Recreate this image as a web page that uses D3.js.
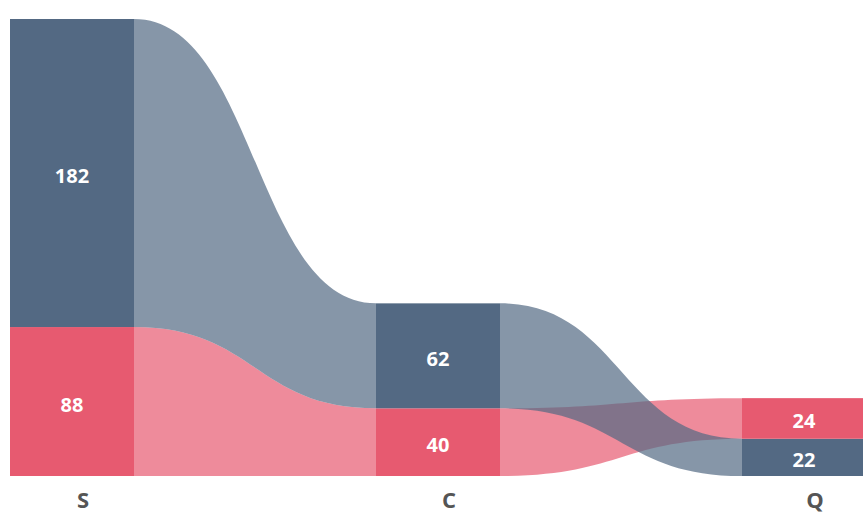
<!DOCTYPE html>
<html>
<head>
<meta charset="utf-8">
<script src="https://cdn.jsdelivr.net/npm/d3@7"></script>
<style>
  html, body { margin: 0; padding: 0; background: #fff; }
  svg { display: block; }
</style>
</head>
<body>
<svg id="chart" width="863" height="513"></svg>
<script>
// Categories along the x axis and the two series stacked at each one
const categories = ["S", "C", "Q"];
const seriesNames = ["blue", "red"];
const blueValues = [182, 62, 22];
const redValues = [88, 40, 24];

const colors = { blue: "#536983", red: "#e75a70" };
const flowOpacity = 0.7;

const width = 863, height = 513;
const barWidth = 124;
const svg = d3.select("#chart");

const values = { blue: blueValues, red: redValues };

// Stack each category: smallest value at the bottom, largest on top
const stacks = categories.map((c, i) => {
  const items = seriesNames.map(s => ({ series: s, value: values[s][i] }))
    .sort((a, b) => a.value - b.value);
  let acc = 0;
  items.forEach(d => { d.y0 = acc; acc += d.value; d.y1 = acc; });
  const byName = {};
  items.forEach(d => { byName[d.series] = d; });
  return { category: c, items, byName, total: acc };
});

const maxTotal = d3.max(stacks, d => d.total);

const x = d3.scalePoint().domain(categories).range([10, 742]);
const y = d3.scaleLinear().domain([0, maxTotal]).range([476, 19]);

const flowLayer = svg.append("g");
const barLayer = svg.append("g");
const labelLayer = svg.append("g");

// Flow ribbons between neighbouring bars; red first so blue sits over it
function ribbon(a, b) {
  const x0 = a.x, x1 = b.x, mx = (x0 + x1) / 2;
  const p = d3.path();
  p.moveTo(x0, a.top);
  p.bezierCurveTo(mx, a.top, mx, b.top, x1, b.top);
  p.lineTo(x1, b.bottom);
  p.bezierCurveTo(mx, b.bottom, mx, a.bottom, x0, a.bottom);
  p.closePath();
  return p.toString();
}

["red", "blue"].forEach(s => {
  for (let i = 0; i < categories.length - 1; i++) {
    const A = stacks[i].byName[s], B = stacks[i + 1].byName[s];
    const a = { x: x(categories[i]) + barWidth, top: y(A.y1), bottom: y(A.y0) };
    const b = { x: x(categories[i + 1]), top: y(B.y1), bottom: y(B.y0) };
    flowLayer.append("path")
      .attr("d", ribbon(a, b))
      .attr("fill", colors[s])
      .attr("fill-opacity", flowOpacity);
  }
});

// Bars with their value labels
stacks.forEach(st => {
  st.items.forEach(d => {
    barLayer.append("rect")
      .attr("x", x(st.category))
      .attr("y", y(d.y1))
      .attr("width", barWidth)
      .attr("height", y(d.y0) - y(d.y1))
      .attr("fill", colors[d.series]);
    labelLayer.append("text")
      .attr("x", x(st.category) + barWidth / 2)
      .attr("y", (y(d.y0) + y(d.y1)) / 2 + 10)
      .attr("text-anchor", "middle")
      .attr("font-family", "'Open Sans', sans-serif")
      .attr("font-weight", "bold")
      .attr("font-size", 20)
      .attr("fill", "#fff")
      .text(d.value);
  });
});

// Category labels
const axis = svg.append("g").attr("transform", "translate(73,0)");
categories.forEach(c => {
  axis.append("text")
    .attr("x", x(c))
    .attr("y", 508)
    .attr("text-anchor", "middle")
    .attr("font-family", "'Open Sans', sans-serif")
    .attr("font-weight", "bold")
    .attr("font-size", 22)
    .attr("fill", "#555")
    .text(c);
});
</script>
</body>
</html>
